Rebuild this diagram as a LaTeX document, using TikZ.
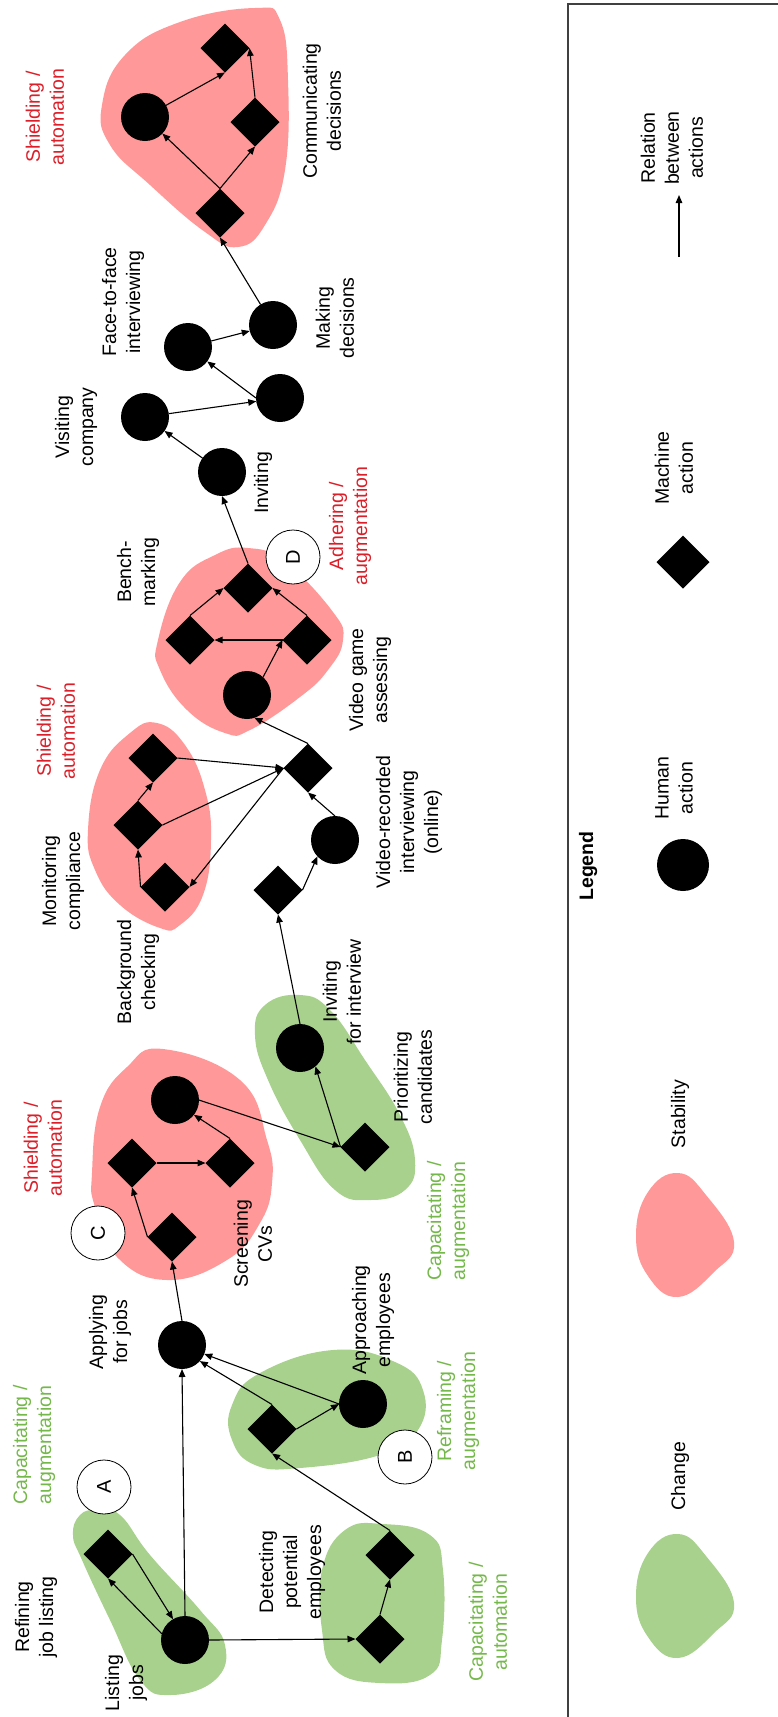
\documentclass[tikz,border=0pt]{standalone}
\usepackage{fontspec}
\setmainfont{Liberation Sans}
\usetikzlibrary{shapes.geometric, arrows.meta}
\definecolor{stabfill}{HTML}{FF9999}
\definecolor{chgfill}{HTML}{A9D18E}
\definecolor{stabtext}{HTML}{DC1E28}
\definecolor{chgtext}{HTML}{74B84A}
\tikzset{
human/.style={circle, fill=black, minimum size=48pt, inner sep=0pt, outer sep=0pt}, % human action
machine/.style={diamond, fill=black, minimum width=49pt, minimum height=49pt, inner sep=0pt, outer sep=0pt}, % machine action
letter/.style={circle, draw=black, fill=white, line width=0.8pt, minimum size=54pt, inner sep=0pt, rotate=90, font=\fontsize{20}{24}\selectfont}, % A, B, C, D
lbl/.style={rotate=90, align=center, inner sep=0pt, font=\fontsize{19.5}{24}\selectfont}, % all texts read upwards
stablbl/.style={lbl, text=stabtext},
chglbl/.style={lbl, text=chgtext},
rel/.style={-{Triangle[length=8pt, width=6.5pt]}, line width=1.1pt}, % relation between actions
stability/.style={fill=stabfill},
change/.style={fill=chgfill},
}

\begin{document}
\begin{tikzpicture}[x=1pt, y=-1pt]
    \useasboundingbox (0,0) rectangle (777,1717);

    % blobs
    \fill[stability] plot[smooth cycle, tension=0.75] coordinates {(102,105) (125,55) (180,22) (255,8) (280,20) (288,80) (285,170) (265,225) (238,247) (205,232) (150,185) (110,145)};
    \fill[stability] plot[smooth cycle, tension=0.75] coordinates {(248,548) (285,562) (333,612) (343,640) (328,670) (300,697) (250,730) (225,733) (187,710) (160,670) (158,640) (180,582) (215,555)};
    \fill[stability] plot[smooth cycle, tension=0.75] coordinates {(157,723) (185,745) (205,790) (211,840) (203,895) (180,925) (160,928) (120,905) (95,870) (88,830) (100,770) (130,733)};
    \fill[stability] plot[smooth cycle, tension=0.75] coordinates {(163,1049) (240,1080) (267,1140) (272,1183) (260,1223) (227,1260) (167,1280) (117,1257) (95,1207) (92,1173) (100,1107) (127,1067)};
    \fill[change] plot[smooth cycle, tension=0.75] coordinates {(300,995) (330,1010) (365,1060) (400,1115) (415,1160) (405,1190) (370,1200) (335,1190) (300,1140) (268,1080) (255,1035) (265,1005)};
    \fill[change] plot[smooth cycle, tension=0.75] coordinates {(333,1350) (395,1362) (423,1390) (418,1430) (380,1455) (300,1468) (255,1465) (232,1440) (232,1405) (260,1373)};
    \fill[change] plot[smooth cycle, tension=0.75] coordinates {(97,1510) (120,1515) (150,1555) (200,1610) (225,1645) (215,1680) (170,1695) (140,1680) (110,1620) (82,1560) (73,1535) (80,1515)};
    \fill[change] plot[smooth cycle, tension=0.75] coordinates {(383,1524) (430,1535) (443,1570) (442,1640) (430,1675) (380,1683) (335,1670) (322,1630) (322,1570) (345,1530)};

    % actions
    \node[human] (listing) at (185,1640) {};
    \node[machine] (refining) at (108,1554) {};
    \node[machine] (detect1) at (380,1639) {};
    \node[machine] (detect2) at (390,1555) {};
    \node[machine] (approach1) at (272,1429) {};
    \node[human] (approach2) at (363,1404) {};
    \node[human] (applying) at (182,1345) {};
    \node[machine] (screen1) at (172,1237) {};
    \node[machine] (screen2) at (132,1163) {};
    \node[machine] (screen3) at (230,1163) {};
    \node[human] (screen4) at (175,1100) {};
    \node[machine] (prio) at (365,1147) {};
    \node[human] (invint) at (300,1048) {};
    \node[machine] (video1) at (278,890) {};
    \node[human] (video2) at (335,840) {};
    \node[machine] (video3) at (308,768) {};
    \node[machine] (monitor1) at (165,887) {};
    \node[machine] (monitor2) at (138,825) {};
    \node[machine] (monitor3) at (153,758) {};
    \node[human] (game1) at (247,695) {};
    \node[machine] (game2) at (190,640) {};
    \node[machine] (game3) at (307,640) {};
    \node[machine] (bench) at (248,588) {};
    \node[human] (inviting) at (222,472) {};
    \node[human] (visiting) at (145,417) {};
    \node[human] (face1) at (280,398) {};
    \node[human] (face2) at (188,347) {};
    \node[human] (making) at (273,325) {};
    \node[machine] (comm1) at (220,213) {};
    \node[human] (comm2) at (145,117) {};
    \node[machine] (comm3) at (255,122) {};
    \node[machine] (comm4) at (225,48) {};

    % markers
    \node[letter] (markA) at (104,1487) {A};
    \node[letter] (markB) at (405,1457) {B};
    \node[letter] (markC) at (98,1233) {C};
    \node[letter] (markD) at (293,557) {D};

    % relations
    \draw[rel] (listing.165) -- (refining.south);
    \draw[rel] (refining.east) -- (listing.120);
    \draw[rel] (listing.north) -- (applying.south);
    \draw[rel] (listing.east) -- (detect1.west);
    \draw[rel] (detect1.north) -- (detect2.south);
    \draw[rel] (detect2.north) -- (approach1.south);
    \draw[rel] (approach1.east) -- (approach2.west);
    \draw[rel] (approach1.north) -- (applying.-42);
    \draw[rel] (approach2.west) -- (applying.-22);
    \draw[rel] (applying.north) -- (screen1.south);
    \draw[rel] (screen1.west) -- (screen2.south);
    \draw[rel] (screen2.east) -- (screen3.west);
    \draw[rel] (screen3.north) -- (screen4.-38);
    \draw[rel] (screen4.east) -- (prio.west);
    \draw[rel] (prio.west) -- (invint.-50);
    \draw[rel] (invint.north) -- (video1.south);
    \draw[rel] (video1.east) -- (video2.223);
    \draw[rel] (video2.north) -- (video3.south);
    \draw[rel] (video3.north) -- (game1.-72);
    \draw[rel] (monitor1.west) -- (monitor2.south);
    \draw[rel] (monitor2.north) -- (monitor3.south);
    \draw[rel] (monitor3.east) -- (video3.west);
    \draw[rel] (monitor2.east) -- (video3.west);
    \draw[rel] (video3.west) -- (monitor1.east);
    \draw[rel] (game1.48) -- (game3.west);
    \draw[rel] (game3.west) -- (game2.east);
    \draw[rel] (game2.north) -- (bench.west);
    \draw[rel] (game3.north) -- (bench.east);
    \draw[rel] (bench.north) -- (inviting.south);
    \draw[rel] (inviting) -- (visiting);
    \draw[rel] (visiting) -- (face1);
    \draw[rel] (face1.west) -- (face2);
    \draw[rel] (face2) -- (making);
    \draw[rel] (making) -- (comm1.south);
    \draw[rel] (comm1.north) -- (comm2);
    \draw[rel] (comm1.north) -- (comm3.south);
    \draw[rel] (comm2) -- (comm4.south);
    \draw[rel] (comm3.north) -- (comm4.east);

    % labels
    \node[lbl] (txtrefining) at (36,1617) {Refining\\job listing};
    \node[lbl] (txtlisting) at (126,1683) {Listing\\jobs};
    \node[chglbl] (txtA) at (34,1445) {Capacitating /\\augmentation};
    \node[lbl] (txtdetect) at (292,1572) {Detecting\\potential\\employees};
    \node[chglbl] (txtdetectB) at (488,1622) {Capacitating /\\automation};
    \node[lbl] (txtapplying) at (110,1332) {Applying\\for jobs};
    \node[lbl] (txtapproach) at (373,1320) {Approaching\\employees};
    \node[chglbl] (txtB) at (458,1411) {Reframing /\\augmentation};
    \node[lbl] (txtscreen) at (253,1244) {Screening\\CVs};
    \node[stablbl] (txtC) at (43,1148) {Shielding /\\automation};
    \node[chglbl] (txtprio2) at (448,1221) {Capacitating /\\augmentation};
    \node[lbl] (txtprio) at (413,1077) {Prioritizing\\candidates};
    \node[lbl] (txtinvint) at (342,992) {Inviting\\for interview};
    \node[lbl] (txtbackground) at (138,972) {Background\\checking};
    \node[lbl] (txtmonitor) at (63,881) {Monitoring\\compliance};
    \node[stablbl] (txtmonitor2) at (56,731) {Shielding /\\automation};
    \node[lbl] (txtvideo) at (409,822) {Video-recorded\\interviewing\\(online)};
    \node[lbl] (txtgame) at (370,680) {Video game\\assessing};
    \node[lbl] (txtbench) at (138,572) {Bench-\\marking};
    \node[stablbl] (txtD) at (350,526) {Adhering /\\augmentation};
    \node[lbl] (txtinviting) at (263,483) {Inviting};
    \node[lbl] (txtvisiting) at (76,427) {Visiting\\company};
    \node[lbl] (txtface) at (123,302) {Face-to-face\\interviewing};
    \node[lbl] (txtmaking) at (335,318) {Making\\decisions};
    \node[stablbl] (txtcomm2) at (45,117) {Shielding /\\automation};
    \node[lbl] (txtcomm) at (322,111) {Communicating\\decisions};

    % legend
    \draw[line width=1.4pt, black!75] (568,1720) -- (568,4) -- (780,4);
    \node[lbl, font=\fontsize{19.5}{24}\selectfont\bfseries] (legend) at (588,866) {Legend};
    \fill[stability] plot[smooth cycle, tension=0.75] coordinates {(678,1173) (706,1195) (734,1242) (714,1272) (678,1297) (648,1276) (636,1236) (648,1192)};
    \fill[change] plot[smooth cycle, tension=0.75] coordinates {(678,1534) (706,1556) (734,1603) (714,1633) (678,1658) (648,1637) (636,1597) (648,1553)};
    \node[lbl] (txtstab) at (680,1114) {Stability};
    \node[lbl] (txtchange) at (680,1476) {Change};
    \node[human, minimum size=52pt] (keyhuman) at (683,865) {};
    \node[lbl] (txthuman) at (674,788) {Human\\action};
    \node[machine, minimum width=53pt, minimum height=53pt] (keymachine) at (683,562) {};
    \node[lbl] (txtmachine) at (674,468) {Machine\\action};
    \coordinate (keyfrom) at (679,257);
    \coordinate (keyto) at (679,195);
    \draw[rel] (keyfrom) -- (keyto);
    \node[lbl] (txtrel) at (672,148) {Relation\\between\\actions};
\end{tikzpicture}
\end{document}
